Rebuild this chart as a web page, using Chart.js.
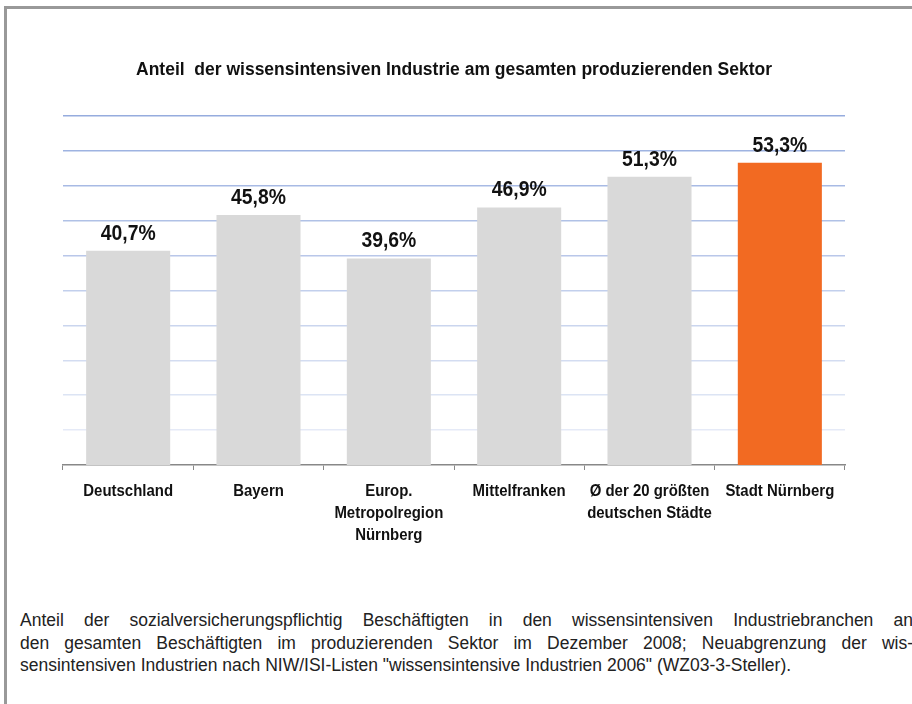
<!DOCTYPE html>
<html>
<head>
<meta charset="utf-8">
<script src="https://cdn.jsdelivr.net/npm/chart.js@4"></script>
<style>
  html, body { margin: 0; padding: 0; background: #fff; overflow: hidden; }
  #frame {
    position: absolute; left: 4px; top: 6px; width: 920px; height: 720px;
    border-left: 3px solid #999; border-top: 3px solid #999;
  }
  #wrap { position: absolute; left: 0; top: 0; width: 912px; height: 560px; }
  #caption {
    position: absolute; left: 20px; top: 609px; width: 893px;
    font-family: "Liberation Sans", Arial, sans-serif;
    font-size: 17.5px; line-height: 22.5px; color: #222;
  }
  #caption div { text-align: justify; text-align-last: justify; white-space: nowrap; }
  #caption div.last { text-align-last: left; }
</style>
</head>
<body>
<div id="frame"></div>
<div id="wrap"><canvas id="chart" width="912" height="560"></canvas></div>
<div id="caption">
  <div>Anteil der sozialversicherungspflichtig Beschäftigten in den wissensintensiven Industriebranchen an</div>
  <div>den gesamten Beschäftigten im produzierenden Sektor im Dezember 2008; Neuabgrenzung der wis-</div>
  <div class="last">sensintensiven Industrien nach NIW/ISI-Listen "wissensintensive Industrien 2006" (WZ03-3-Steller).</div>
</div>
<script>
// Daten
const regionen = [
  ["Deutschland"],
  ["Bayern"],
  ["Europ.", "Metropolregion", "Nürnberg"],
  ["Mittelfranken"],
  ["Ø der 20 größten", "deutschen Städte"],
  ["Stadt Nürnberg"],
];
const anteile = [40.7, 45.8, 39.6, 46.9, 51.3, 53.3];
const balkenFarben = ["#d9d9d9", "#d9d9d9", "#d9d9d9", "#d9d9d9", "#d9d9d9", "#f26a22"];

const schrift = '"Liberation Sans", Arial, sans-serif';

// schmal gezeichneter Text (Vorlage wirkt horizontal gestaucht)
function schmalText(ctx, text, x, y, sx) {
  ctx.save();
  ctx.translate(x, y);
  ctx.scale(sx, 1);
  ctx.fillText(text, 0, 0);
  ctx.restore();
}

// Werte über den Balken + Kategorienamen unter der Achse
const beschriftung = {
  id: "beschriftung",
  afterDatasetsDraw(chart) {
    const ctx = chart.ctx;
    const meta = chart.getDatasetMeta(0);
    const xScale = chart.scales.x;
    ctx.save();
    ctx.fillStyle = "#111";
    ctx.textAlign = "center";

    ctx.font = "bold 22px " + schrift;
    ctx.textBaseline = "alphabetic";
    meta.data.forEach((bar, i) => {
      schmalText(ctx, anteile[i].toFixed(1).replace(".", ",") + "%", bar.x, bar.y - 11, 0.88);
    });

    ctx.font = "bold 17px " + schrift;
    ctx.textBaseline = "middle";
    regionen.forEach((zeilen, i) => {
      const x = xScale.getPixelForTick(i);
      zeilen.forEach((z, j) => {
        schmalText(ctx, z, x, xScale.bottom + 21 + j * 22, 0.88);
      });
    });
    ctx.restore();
  },
};

new Chart(document.getElementById("chart"), {
  type: "bar",
  data: {
    labels: regionen,
    datasets: [
      {
        data: anteile,
        backgroundColor: balkenFarben,
        categoryPercentage: 1,
        barPercentage: 0.645,
      },
    ],
  },
  options: {
    responsive: false,
    animation: false,
    layout: { padding: { left: 63, right: 67, top: 60, bottom: 90 } },
    plugins: {
      legend: { display: false },
      tooltip: { enabled: false },
      title: {
        display: true,
        text: "Anteil  der wissensintensiven Industrie am gesamten produzierenden Sektor",
        color: "#111",
        font: { family: schrift, size: 17.5, weight: "bold", lineHeight: 1.2 },
        padding: { top: 0, bottom: 35 },
      },
    },
    scales: {
      y: {
        min: 10,
        max: 60,
        ticks: { display: false, stepSize: 5 },
        border: { display: false },
        grid: {
          drawTicks: false,
          lineWidth: 1.5,
          color: (c) => {
            const v = c.tick.value;
            if (v <= 10) return "rgba(0,0,0,0)";
            const a = 0.25 + 0.75 * (v - 15) / 45;
            return "rgba(150,172,222," + a.toFixed(2) + ")";
          },
        },
      },
      x: {
        border: { color: "#888", width: 1.5 },
        grid: { drawOnChartArea: false, drawTicks: true, tickLength: 5, color: "#888", offset: true },
        ticks: { display: false },
      },
    },
  },
  plugins: [beschriftung],
});
</script>
</body>
</html>
